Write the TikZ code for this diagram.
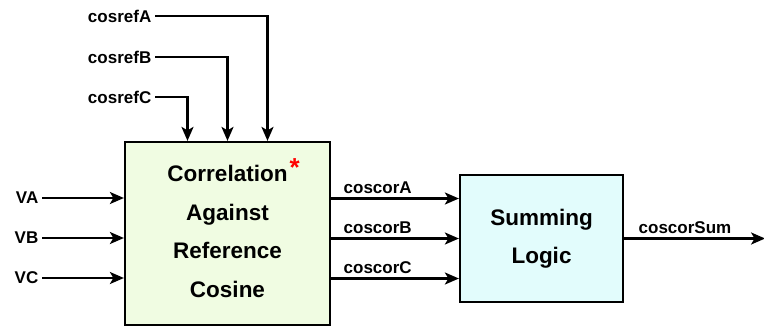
\documentclass[tikz,border=0pt]{standalone}
\usepackage{fontspec}
\setmainfont{Liberation Sans}
\usetikzlibrary{arrows.meta,calc}
\definecolor{corrfill}{RGB}{240,252,226}
\definecolor{sumfill}{RGB}{226,252,252}
\tikzset{
  sig/.style={line width=2.2pt, -{Stealth[length=14pt,width=12pt,inset=3.5pt]}},
  blockbox/.style={draw, line width=2.2pt, align=center},
  siglabel/.style={font=\fontsize{17}{20}\selectfont\bfseries, inner sep=3.5pt}
}
\begin{document}
\begin{tikzpicture}[x=1pt,y=-1pt]
\useasboundingbox (0,0) rectangle (764,327);

\node [blockbox, fill=corrfill, minimum width=205pt, minimum height=183pt,
  font=\fontsize{22.5}{38.5}\selectfont\bfseries] (corr) at (227.5,233.5)
  {Correlation\rlap{\hspace{2pt}\textcolor{red}{\raisebox{5pt}{\fontsize{26}{26}\selectfont *}}}\\Against\\Reference\\Cosine\rule[-11pt]{0pt}{11pt}};
\node [blockbox, fill=sumfill, minimum width=163pt, minimum height=127pt,
  font=\fontsize{22.5}{37.5}\selectfont\bfseries] (sum) at (541.5,238.5) {Summing\\Logic};

\foreach \n/\y in {A/198,B/238,C/278}
\node [siglabel, anchor=east] (v\n) at (42,\y) {V\n};
\foreach \n in {A,B,C}
\draw [sig] (v\n.east) -- (v\n.east -| corr.west);

\node [siglabel, anchor=east] (refA) at (155,16) {cosrefA};
\node [siglabel, anchor=east] (refB) at (155,57) {cosrefB};
\node [siglabel, anchor=east] (refC) at (155,97) {cosrefC};
\draw [sig] (refA.east) -| ([xshift=40pt]corr.north);
\draw [sig] (refB.east) -| (corr.north);
\draw [sig] (refC.east) -| ([xshift=-40pt]corr.north);

\foreach \n/\s in {A/40,B/0,C/-40} {
  \coordinate (in\n) at ([yshift=\s pt]sum.west);
  \draw [sig] (in\n -| corr.east) -- (in\n)
    node [siglabel, pos=0, anchor=south west, xshift=8pt] (cor\n) {coscor\n};
}

\coordinate (out) at ($(sum.east)+(141,0)$);
\draw [sig] (sum.east) -- (out)
  node [siglabel, pos=0, anchor=south west, xshift=10pt] (corSum) {coscorSum};

\end{tikzpicture}
\end{document}
